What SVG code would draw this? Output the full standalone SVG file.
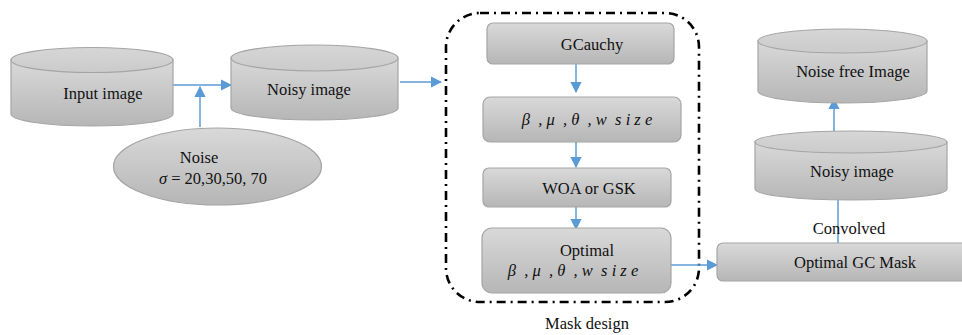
<svg xmlns="http://www.w3.org/2000/svg" width="962" height="335" viewBox="0 0 962 335">
  <style>
    .shape { fill: url(#grey); stroke: #a5a5a5; stroke-width: 1.2; }
    .rim { fill: url(#rimGrey); stroke: #a5a5a5; stroke-width: 1.2; }
    .lbl { font-family: "Liberation Serif", "Times New Roman", serif; font-size: 16.5px; fill: #111; text-anchor: middle; }
    .math { font-family: "Liberation Serif", "Times New Roman", serif; font-size: 16.5px; font-style: italic; fill: #111; text-anchor: middle; white-space: pre; }
    .conn { fill: none; stroke: #5b9bd5; stroke-width: 1.5; marker-end: url(#arrow); }
  </style>
  <defs>
    <linearGradient id="grey" x1="0" y1="0" x2="0" y2="1">
      <stop offset="0" stop-color="#d9d9d9"/>
      <stop offset="1" stop-color="#b6b6b6"/>
    </linearGradient>
    <linearGradient id="rimGrey" x1="0" y1="0" x2="0" y2="1">
      <stop offset="0" stop-color="#d6d6d6"/>
      <stop offset="1" stop-color="#cbcbcb"/>
    </linearGradient>
    <marker id="arrow" viewBox="0 0 10 10" refX="9" refY="5" markerWidth="7.5" markerHeight="7.5" markerUnits="strokeWidth" orient="auto">
      <path d="M0,0 L10,5 L0,10 z" fill="#5b9bd5"/>
    </marker>
  </defs>

  <!-- mask design container -->
  <rect x="446" y="13" width="253" height="289" rx="34" ry="34" fill="none" stroke="#000" stroke-width="2.6" stroke-dasharray="9 5 2 5"/>
  <text class="lbl" x="587" y="329">Mask design</text>

  <g id="connectors">
    <path class="conn" d="M173,85 H231"/>
    <path class="conn" d="M200,127 V87"/>
    <path class="conn" d="M400,82 H441"/>
    <path class="conn" d="M576,64 V92"/>
    <path class="conn" d="M576,142 V167"/>
    <path class="conn" d="M576,207 V229"/>
    <path class="conn" d="M671,265 H717"/>
    <path class="conn" d="M838,243 V181"/>
    <path class="conn" d="M834,142 V99"/>
    <text class="lbl" x="849" y="234">Convolved</text>
  </g>

  <g id="input-image">
    <path class="shape" d="M11,60 V114 A81,12 0 0 0 173,114 V60 Z"/>
    <ellipse class="rim" cx="92" cy="60" rx="81" ry="12.5"/>
    <text class="lbl" x="103" y="99">Input image</text>
  </g>

  <g id="noise">
    <ellipse class="shape" cx="217.5" cy="166.5" rx="104" ry="38.5"/>
    <text class="lbl" x="199" y="163">Noise</text>
    <text class="lbl" x="213" y="184"><tspan font-style="italic">σ</tspan> = 20,30,50, 70</text>
  </g>

  <g id="noisy-image">
    <path class="shape" d="M231,58 V108 A83.5,12 0 0 0 398,108 V58 Z"/>
    <ellipse class="rim" cx="314.5" cy="58" rx="83.5" ry="13"/>
    <text class="lbl" x="309" y="95">Noisy image</text>
  </g>

  <g id="gcauchy">
    <rect class="shape" x="487" y="23" width="187" height="41" rx="6"/>
    <text class="lbl" x="592" y="50">GCauchy</text>
  </g>

  <g id="params">
    <rect class="shape" x="483" y="97" width="198" height="45" rx="7"/>
    <text class="math" x="587" y="125">β  , μ  , θ  , w  s i z e</text>
  </g>

  <g id="woa-gsk">
    <rect class="shape" x="483" y="168" width="188" height="39" rx="6"/>
    <text class="lbl" x="589" y="194">WOA or GSK</text>
  </g>

  <g id="optimal-params">
    <rect class="shape" x="482" y="228" width="189" height="65" rx="10"/>
    <text class="lbl" x="587" y="256">Optimal</text>
    <text class="math" x="573" y="276">β  , μ  , θ  , w  s i z e</text>
  </g>

  <g id="optimal-gc-mask">
    <rect class="shape" x="717" y="243" width="255" height="38" rx="6"/>
    <text class="lbl" x="855" y="268">Optimal GC Mask</text>
  </g>

  <g id="noisy-image-2">
    <path class="shape" d="M755,142 V189 A96,11 0 0 0 947,189 V142 Z"/>
    <ellipse class="rim" cx="851" cy="142" rx="96" ry="11"/>
    <text class="lbl" x="852" y="177">Noisy image</text>
  </g>

  <g id="noise-free-image">
    <path class="shape" d="M758,41 V91 A84.5,12 0 0 0 927,91 V41 Z"/>
    <ellipse class="rim" cx="842.5" cy="41" rx="84.5" ry="12"/>
    <text class="lbl" x="853" y="77">Noise free Image</text>
  </g>
</svg>
